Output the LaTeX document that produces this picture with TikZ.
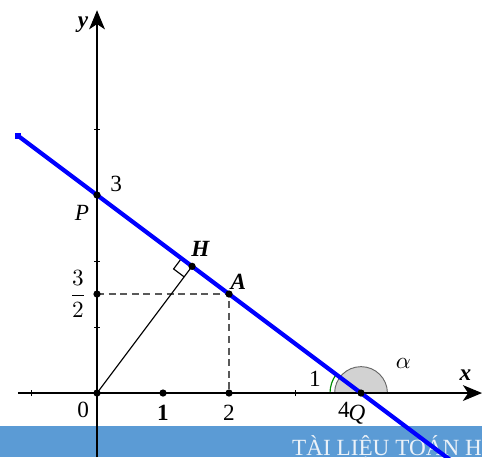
\documentclass[tikz,border=0pt]{standalone}
\usepackage{amsmath}
\usepackage{fontspec}
\setmainfont{Liberation Serif}
\usetikzlibrary{arrows.meta,calc}
\definecolor{lineblue}{RGB}{0,0,255}
\definecolor{bannerblue}{RGB}{91,155,213}
\definecolor{bannertext}{RGB}{236,242,248}
\definecolor{anglegray}{RGB}{210,210,210}
\definecolor{arcgreen}{RGB}{0,140,0}
\tikzset{
  axis/.style={line width=0.5pt, -{Stealth[length=2.9mm,width=2.4mm,inset=0.8mm]}},
  dot/.style={circle, fill=black, inner sep=0pt, minimum size=1.1mm},
  endmark/.style={rectangle, fill=lineblue, inner sep=0pt, minimum size=0.9mm},
  lbl/.style={font=\fontsize{10}{11}\selectfont, inner sep=1pt},
  guide/.style={line width=0.5pt, gray!70!black, dash pattern=on 3pt off 2pt},
  mainline/.style={draw=lineblue, line width=1.8pt},
  tick/.style={line width=0.4pt}
}
\begin{document}
\begin{tikzpicture}
\useasboundingbox (-1.47,-0.97) rectangle (5.833,5.955);
\clip (-1.47,-0.97) rectangle (5.833,5.955);

% Points
\coordinate (O) at (0,0);
\coordinate (P) at (0,3);
\coordinate (Q) at (4,0);
\coordinate (A) at (2,1.5);
\coordinate (H) at (1.44,1.92);
\coordinate (Ax) at (2,0);
\coordinate (Ay) at (0,1.5);
\coordinate (U) at (1,0);
\coordinate (Lstart) at (-1.2,3.9);
\coordinate (Lend) at (5.9,-1.425);

% Banner
\fill[bannerblue] (-1.47,-0.5) rectangle (5.833,-0.97);
\node[anchor=base west, inner sep=0pt, text=bannertext,
  font=\fontsize{10}{11}\selectfont] (banner) at (2.95,-0.94) {TÀI LIỆU TOÁN H};

% Angles at Q
\filldraw[fill=anglegray, draw=gray!80!black, line width=0.4pt]
  (Q) ++(0.4,0) arc[start angle=0, end angle=180, radius=0.4] -- cycle;
\draw[arcgreen, line width=0.5pt] (Q) ++(143.13:0.47) arc[start angle=143.13, end angle=180, radius=0.47];

% Axes
\coordinate (xs) at (-1.2,0);
\coordinate (xe) at (5.833,0);
\coordinate (ys) at (0,-0.97);
\coordinate (ye) at (0,5.8);
\draw[axis] (xs) -- (xe);
\draw[axis] (ys) -- (ye);
\foreach \t in {-1,3} \draw[tick] (\t,-0.045) -- (\t,0.045);
\foreach \t in {1,2,4} \draw[tick] (-0.045,\t) -- (0.045,\t);

% Guides
\draw[guide] (Ay) -- (A) -- (Ax);
\draw[line width=0.5pt] (O) -- (H);
\draw[line width=0.5pt] (1.28,2.04) -- (1.16,1.88) -- (1.32,1.76);

% Line PQ
\draw[mainline] (Lstart) -- (Lend);
\node[endmark] (lend) at (Lstart) {};

% Dots
\foreach \p in {O,P,Q,A,H,Ax,Ay,U} \node[dot] at (\p) {};

% Labels
\node[lbl] (l0) at (-0.21,-0.26) {0};
\node[lbl] (l1) at (1,-0.30) {\textbf{1}};
\node[lbl] (l2) at (2,-0.30) {2};
\node[lbl] (l32) at (-0.29,1.5) {$\dfrac{3}{2}$};
\node[lbl] (l3) at (0.29,3.17) {3};
\node[lbl] (lP) at (-0.23,2.73) {\textit{P}};
\node[lbl] (lH) at (1.57,2.18) {\textbf{\textit{H}}};
\node[lbl] (lA) at (2.14,1.68) {\textbf{\textit{A}}};
\node[lbl] (l4) at (3.74,-0.26) {4};
\node[lbl] (lQ) at (3.94,-0.33) {\textit{Q}};
\node[lbl] (lone) at (3.30,0.21) {1};
\node[lbl] (lal) at (4.64,0.45) {$\alpha$};
\node[lbl] (lx) at (5.58,0.27) {\textbf{\textit{x}}};
\node[lbl] (ly) at (-0.21,5.58) {\textbf{\textit{y}}};
\end{tikzpicture}
\end{document}
